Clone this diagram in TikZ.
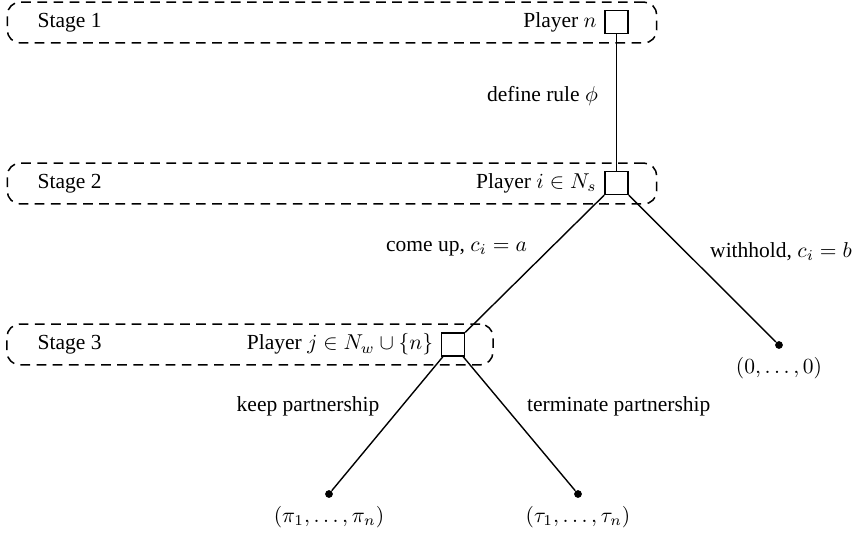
\documentclass[tikz,border=0pt]{standalone}
\usepackage[no-math]{fontspec}
\setmainfont{Liberation Serif}

\begin{document}
\begin{tikzpicture}
    [x=0.465pt,y=-0.465pt,
     stagebox/.style={draw,dash pattern=on 4.5pt off 3pt,line width=0.7pt,rounded corners=6pt,inner sep=0pt,minimum height=19pt},
     player/.style={draw,rectangle,line width=0.7pt,minimum size=10.7pt,inner sep=0pt},
     leaf/.style={circle,fill=black,inner sep=0pt,minimum size=3.6pt}]
    \useasboundingbox (0,0) rectangle (861,536);

    % les cadres des etapes
    \node[stagebox,minimum width=302pt] (s1) at (332,22.5) {};
    \node[stagebox,minimum width=302pt] (s2) at (332,183.5) {};
    \node[stagebox,minimum width=226pt] (s3) at (250,344.5) {};
    \node[anchor=west] (t1) at (30,22.5) {Stage 1};
    \node[anchor=west] (t2) at (30,183.5) {Stage 2};
    \node[anchor=west] (t3) at (30,344.5) {Stage 3};

    % les joueurs
    \node[player,label={left:Player $n$}] (p1) at (616.5,22) {};
    \node[player,label={left:Player $i \in N_s$}] (p2) at (616.5,183) {};
    \node[player,label={left:Player $j \in N_w \cup \{n\}$}] (p3) at (453,344.5) {};

    % les feuilles
    \node[leaf,label={below:$(0,\ldots,0)$}] (l0) at (779,345) {};
    \node[leaf,label={below:$(\pi_1,\ldots,\pi_n)$}] (l1) at (329,494) {};
    \node[leaf,label={below:$(\tau_1,\ldots,\tau_n)$}] (l2) at (578,494) {};

    \draw[line width=0.65pt] (p1) -- node[pos=.45,left=5pt] {define rule $\phi$} (p2);
    \foreach \from/\to/\where/\txt in {p2/p3/above left/{come up, $c_i = a$},
                                       p2/l0/above right/{withhold, $c_i = b$},
                                       p3/l1/above left/{keep partnership},
                                       p3/l2/above right/{terminate partnership}}
    \draw[line width=0.65pt] (\from) -- node[midway,\where] {\txt} (\to);
\end{tikzpicture}
\end{document}
